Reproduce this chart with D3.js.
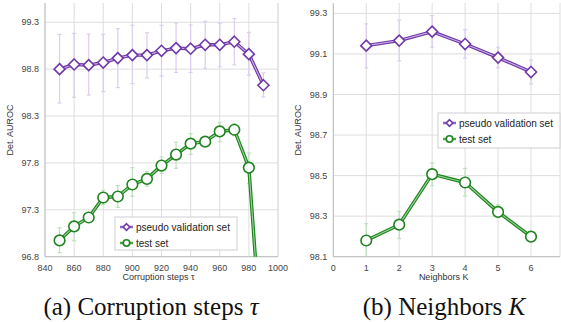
<!DOCTYPE html>
<html>
<head>
<meta charset="utf-8">
<script src="https://cdn.jsdelivr.net/npm/d3@7"></script>
<style>
  body { margin: 0; background: #fff; }
  svg { display: block; }
</style>
</head>
<body>
<svg id="chart" width="561" height="322"></svg>
<script>
// data: corruption steps (a)
const steps = [850, 860, 870, 880, 890, 900, 910, 920, 930, 940, 950, 960, 970, 980, 990];
const stepsPseudo = [98.80, 98.85, 98.843, 98.871, 98.918, 98.95, 98.95, 98.996, 99.025, 99.018, 99.06, 99.06, 99.093, 98.96, 98.629];
const stepsPseudoHi = [99.171, 99.182, 99.175, 99.171, 99.232, 99.268, 99.189, 99.268, 99.293, 99.271, 99.311, 99.29, 99.34, 99.193, 98.761];
const stepsPseudoLo = [98.439, 98.50, 98.525, 98.561, 98.604, 98.646, 98.707, 98.725, 98.764, 98.764, 98.811, 98.825, 98.846, 98.736, 98.504];
const stepsTest = [96.974, 97.123, 97.218, 97.431, 97.442, 97.57, 97.63, 97.772, 97.889, 98.006, 98.027, 98.136, 98.154, 97.75, 95.6];
const stepsTestHi = [97.109, 97.268, 97.25, 97.509, 97.559, 97.75, 97.708, 97.865, 98.02, 98.112, 98.07, 98.23, 98.22, 97.906, 95.6];
const stepsTestLo = [96.843, 96.97, 97.19, 97.353, 97.325, 97.445, 97.552, 97.687, 97.743, 97.892, 97.99, 98.027, 98.09, 97.58, 95.6];

// data: neighbors K (b)
const neighbors = [1, 2, 3, 4, 5, 6];
const nbPseudo = [99.141, 99.166, 99.21, 99.149, 99.082, 99.011];
const nbPseudoHi = [99.248, 99.267, 99.289, 99.22, 99.133, 99.07];
const nbPseudoLo = [99.031, 99.066, 99.134, 99.079, 99.031, 98.952];
const nbTest = [98.18, 98.258, 98.507, 98.466, 98.321, 98.199];
const nbTestHi = [98.263, 98.324, 98.563, 98.536, 98.357, 98.21];
const nbTestLo = [98.08, 98.189, 98.45, 98.399, 98.292, 98.19];

const stepTicks = [840, 860, 880, 900, 920, 940, 960, 980, 1000];
const stepYTicks = [96.8, 97.3, 97.8, 98.3, 98.8, 99.3];
const nbTicks = [0, 1, 2, 3, 4, 5, 6];
const nbYTicks = [98.1, 98.3, 98.5, 98.7, 98.9, 99.1, 99.3];

const seriesNames = ["pseudo validation set", "test set"];

const purple = { dark: "#7038a8", light: "#c8aee6", err: "#dccdee", shape: "diamond" };
const green = { dark: "#1f841f", light: "#98d498", err: "#bfdfbf", shape: "circle" };

const svg = d3.select("#chart");

function marker(g, shape, x, y, r) {
  if (shape === "diamond") {
    g.append("path")
      .attr("d", `M${x},${y - r}L${x + r},${y}L${x},${y + r}L${x - r},${y}Z`)
      .attr("fill", "#fff")
      .attr("stroke", purple.dark)
      .attr("stroke-width", 1.6);
  } else {
    g.append("circle")
      .attr("cx", x).attr("cy", y).attr("r", r)
      .attr("fill", "#fff")
      .attr("stroke", green.dark)
      .attr("stroke-width", 1.6);
  }
}

function drawPanel(cfg) {
  const x = d3.scaleLinear().domain(cfg.xDomain).range(cfg.xRange);
  const y = d3.scaleLinear().domain(cfg.yDomain).range(cfg.yRange);
  const top = 3, bottom = cfg.yRange[0];
  const g = svg.append("g");

  // grid
  g.selectAll("line.vg")
    .data(cfg.xTicks.concat([cfg.xDomain[1]]))
    .join("line")
    .attr("x1", (d) => x(d)).attr("x2", (d) => x(d))
    .attr("y1", top).attr("y2", bottom)
    .attr("stroke", "#dedede").attr("stroke-width", 1);
  g.selectAll("line.hg")
    .data(cfg.yTicks)
    .join("line")
    .attr("x1", cfg.xRange[0]).attr("x2", cfg.xRange[1])
    .attr("y1", (d) => y(d)).attr("y2", (d) => y(d))
    .attr("stroke", "#dedede").attr("stroke-width", 1);
  // axes lines
  g.append("line")
    .attr("x1", cfg.xRange[0]).attr("x2", cfg.xRange[0])
    .attr("y1", top).attr("y2", bottom)
    .attr("stroke", "#bdbdbd");
  g.append("line")
    .attr("x1", cfg.xRange[0]).attr("x2", cfg.xRange[1])
    .attr("y1", bottom).attr("y2", bottom)
    .attr("stroke", "#bdbdbd");

  // tick labels
  g.selectAll("text.xt")
    .data(cfg.xTicks)
    .join("text")
    .attr("x", (d) => x(d)).attr("y", bottom + 14)
    .attr("text-anchor", "middle")
    .attr("font-family", "Liberation Sans, Arial, sans-serif")
    .attr("font-size", 9).attr("fill", "#444")
    .text((d) => d);
  g.selectAll("text.yt")
    .data(cfg.yTicks)
    .join("text")
    .attr("x", cfg.xRange[0] - 6).attr("y", (d) => y(d) + 3)
    .attr("text-anchor", "end")
    .attr("font-family", "Liberation Sans, Arial, sans-serif")
    .attr("font-size", 9).attr("fill", "#444")
    .text((d) => d.toFixed(1));

  // axis titles
  g.append("text")
    .attr("transform", `translate(${cfg.xRange[0] - 32},130) rotate(-90)`)
    .attr("text-anchor", "middle")
    .attr("font-family", "Liberation Sans, Arial, sans-serif")
    .attr("font-size", 9).attr("fill", "#333")
    .text("Det. AUROC");
  g.append("text")
    .attr("x", (cfg.xRange[0] + cfg.xRange[1]) / 2 - 3).attr("y", bottom + 23)
    .attr("text-anchor", "middle")
    .attr("font-family", "Liberation Sans, Arial, sans-serif")
    .attr("font-size", 9).attr("fill", "#333")
    .text(cfg.xTitle);

  // clip
  const clipId = "clip" + cfg.id;
  svg.append("clipPath").attr("id", clipId)
    .append("rect")
    .attr("x", cfg.xRange[0]).attr("y", 0)
    .attr("width", cfg.xRange[1] - cfg.xRange[0]).attr("height", bottom);
  const plot = g.append("g").attr("clip-path", `url(#${clipId})`);

  cfg.series.forEach((s) => {
    const pts = cfg.xs.map((xv, i) => ({ x: xv, v: s.vals[i], hi: s.hi[i], lo: s.lo[i] }));
    // error bars
    pts.forEach((p) => {
      if (p.hi - p.lo < 0.001) return;
      plot.append("line")
        .attr("x1", x(p.x)).attr("x2", x(p.x))
        .attr("y1", y(p.hi)).attr("y2", y(p.lo))
        .attr("stroke", s.style.err).attr("stroke-width", 1.2);
      [p.hi, p.lo].forEach((e) => {
        plot.append("line")
          .attr("x1", x(p.x) - 2).attr("x2", x(p.x) + 2)
          .attr("y1", y(e)).attr("y2", y(e))
          .attr("stroke", s.style.err).attr("stroke-width", 1.2);
      });
    });
    const line = d3.line().x((d) => x(d.x)).y((d) => y(d.v));
    plot.append("path").datum(pts).attr("d", line)
      .attr("fill", "none").attr("stroke", s.style.dark).attr("stroke-width", 3.4)
      .attr("stroke-linejoin", "round");
    plot.append("path").datum(pts).attr("d", line)
      .attr("fill", "none").attr("stroke", s.style.light).attr("stroke-width", 1.1)
      .attr("stroke-linejoin", "round");
    pts.forEach((p) => {
      marker(plot, s.style.shape, x(p.x), y(p.v), s.style.shape === "diamond" ? 5.5 : 5.3);
    });
  });

  // legend
  const L = cfg.legend;
  const lg = g.append("g");
  lg.append("rect")
    .attr("x", L.x).attr("y", L.y).attr("width", L.w).attr("height", L.h)
    .attr("fill", "#fff").attr("stroke", "#cfcfcf");
  cfg.series.forEach((s, i) => {
    const ry = L.y + 10 + i * 16;
    lg.append("line")
      .attr("x1", L.x + 5).attr("x2", L.x + 18).attr("y1", ry).attr("y2", ry)
      .attr("stroke", s.style.dark).attr("stroke-width", 2.4);
    lg.append("line")
      .attr("x1", L.x + 5).attr("x2", L.x + 18).attr("y1", ry).attr("y2", ry)
      .attr("stroke", s.style.light).attr("stroke-width", 0.8);
    marker(lg, s.style.shape, L.x + 11.5, ry, s.style.shape === "diamond" ? 3.3 : 3.2);
    lg.append("text")
      .attr("x", L.x + 21).attr("y", ry + 3.6)
      .attr("font-family", "Liberation Sans, Arial, sans-serif")
      .attr("font-size", 10).attr("fill", "#222")
      .text(seriesNames[i]);
  });

  // caption
  const cap = svg.append("text")
    .attr("x", cfg.capX).attr("y", 315)
    .attr("text-anchor", "middle")
    .attr("font-family", "Liberation Serif, Times New Roman, serif")
    .attr("font-size", 25).attr("fill", "#111");
  cap.append("tspan").text(cfg.caption);
  cap.append("tspan").attr("font-style", "italic").text(cfg.captionSym);
}

drawPanel({
  id: "a",
  xs: steps,
  xDomain: [840, 1000], xRange: [45, 278],
  yDomain: [96.8, 99.3], yRange: [256.7, 22.3],
  xTicks: stepTicks, yTicks: stepYTicks,
  xTitle: "Corruption steps τ",
  series: [
    { vals: stepsPseudo, hi: stepsPseudoHi, lo: stepsPseudoLo, style: purple },
    { vals: stepsTest, hi: stepsTestHi, lo: stepsTestLo, style: green },
  ],
  legend: { x: 115, y: 217, w: 122, h: 33 },
  caption: "(a) Corruption steps ", captionSym: "τ", capX: 151,
});

drawPanel({
  id: "b",
  xs: neighbors,
  xDomain: [0, 6.88], xRange: [333.3, 560],
  yDomain: [98.1, 99.3], yRange: [256.7, 13.4],
  xTicks: nbTicks, yTicks: nbYTicks,
  xTitle: "Neighbors K",
  series: [
    { vals: nbPseudo, hi: nbPseudoHi, lo: nbPseudoLo, style: purple },
    { vals: nbTest, hi: nbTestHi, lo: nbTestLo, style: green },
  ],
  legend: { x: 438, y: 113, w: 122, h: 35 },
  caption: "(b) Neighbors ", captionSym: "K", capX: 444,
});
</script>
</body>
</html>
